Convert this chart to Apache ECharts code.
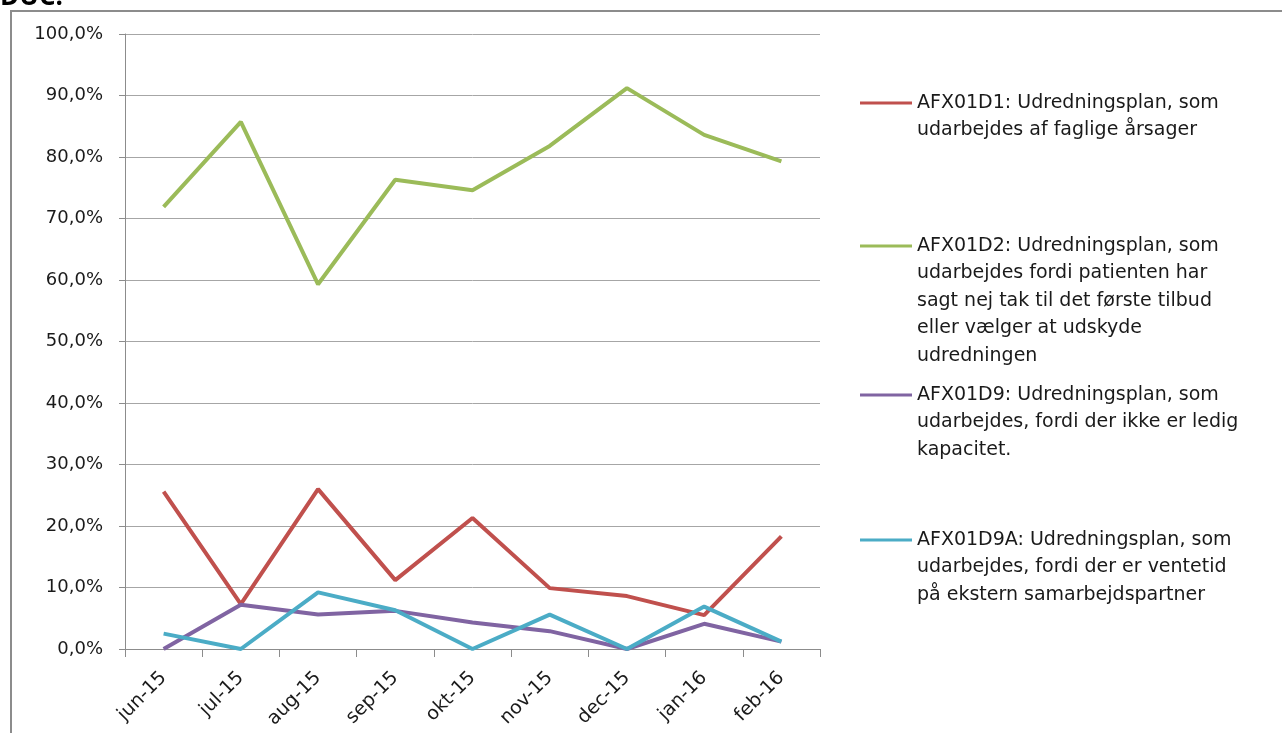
<!DOCTYPE html>
<html><head><meta charset="utf-8">
<script src="https://cdn.jsdelivr.net/npm/echarts@6/dist/echarts.min.js"></script>
<style>html,body{margin:0;padding:0;background:#fff}#c{width:1282px;height:733px}</style>
</head><body><div id="c"></div>
<script>
const categories = ['jun-15','jul-15','aug-15','sep-15','okt-15','nov-15','dec-15','jan-16','feb-16'];
const seriesNames = [
  'AFX01D1: Udredningsplan, som\nudarbejdes af faglige årsager',
  'AFX01D2: Udredningsplan, som\nudarbejdes fordi patienten har\nsagt nej tak til det første tilbud\neller vælger at udskyde\nudredningen',
  'AFX01D9: Udredningsplan, som\nudarbejdes, fordi der ikke er ledig\nkapacitet.',
  'AFX01D9A: Udredningsplan, som\nudarbejdes, fordi der er ventetid\npå ekstern samarbejdspartner'
];
const yTickLabels = ['0,0%','10,0%','20,0%','30,0%','40,0%','50,0%','60,0%','70,0%','80,0%','90,0%','100,0%'];
const d1 = [25.6, 7.3, 26.0, 11.2, 21.3, 9.9, 8.6, 5.5, 18.3];
const d2 = [71.9, 85.7, 59.3, 76.3, 74.6, 81.8, 91.2, 83.6, 79.3];
const d9 = [0.0, 7.2, 5.6, 6.2, 4.3, 2.9, 0.0, 4.1, 1.2];
const d9a = [2.5, 0.0, 9.2, 6.3, 0.0, 5.6, 0.0, 6.9, 1.2];
const colors = ['#C0504D', '#9BBB59', '#8064A2', '#4BACC6'];
const legendFirstLineY = [103, 246, 395, 540];
const LH = 27.5;
const font = '"DejaVu Sans", "Open Sans", sans-serif';

const chart = echarts.init(document.getElementById('c'), null, {renderer: 'canvas'});
const allData = [d1, d2, d9, d9a];
chart.setOption({
  animation: false,
  graphic: [
    {type: 'rect', shape: {x: 11, y: 11, width: 1400, height: 900}, style: {fill: 'none', stroke: '#8c8c8c', lineWidth: 2}},
    {type: 'text', left: 0, top: -15, style: {text: 'DUC:', font: 'bold 26px "Open Sans", sans-serif', fill: '#000'}}
  ],
  grid: {left: 125, right: 462, top: 34, bottom: 84, containLabel: false},
  legend: seriesNames.map((n, i) => {
    const lines = n.split('\n').length;
    return {
      data: [n], left: 855, top: legendFirstLineY[i] - (2 * lines - 1) * LH / 2 - 5,
      orient: 'vertical', padding: 5,
      icon: 'rect', itemWidth: 52, itemHeight: 3, selectedMode: false,
      formatter: name => '\n'.repeat(lines - 1) + name,
      textStyle: {fontFamily: font, fontSize: 19, color: '#1a1a1a', lineHeight: LH},
      itemStyle: {color: colors[i]}
    };
  }),
  xAxis: {
    type: 'category', data: categories, boundaryGap: true,
    axisLine: {lineStyle: {color: '#8c8c8c', width: 1}},
    axisTick: {show: true, length: 8, inside: false, lineStyle: {color: '#8c8c8c'}},
    axisLabel: {rotate: 45, fontFamily: font, fontSize: 19, color: '#1a1a1a', margin: 26}
  },
  yAxis: {
    type: 'value', min: 0, max: 100, interval: 10,
    axisLine: {show: true, lineStyle: {color: '#8c8c8c'}},
    axisTick: {show: true, length: 6, lineStyle: {color: '#8c8c8c'}},
    splitLine: {lineStyle: {color: '#a6a6a6', width: 1}},
    axisLabel: {fontFamily: font, fontSize: 18, color: '#1a1a1a', margin: 22,
      formatter: v => yTickLabels[Math.round(v / 10)]}
  },
  series: seriesNames.map((n, i) => ({
    name: n, type: 'line', data: allData[i], symbol: 'none', showSymbol: false,
    lineStyle: {color: colors[i], width: 4}, itemStyle: {color: colors[i]}
  }))
});
</script></body></html>
